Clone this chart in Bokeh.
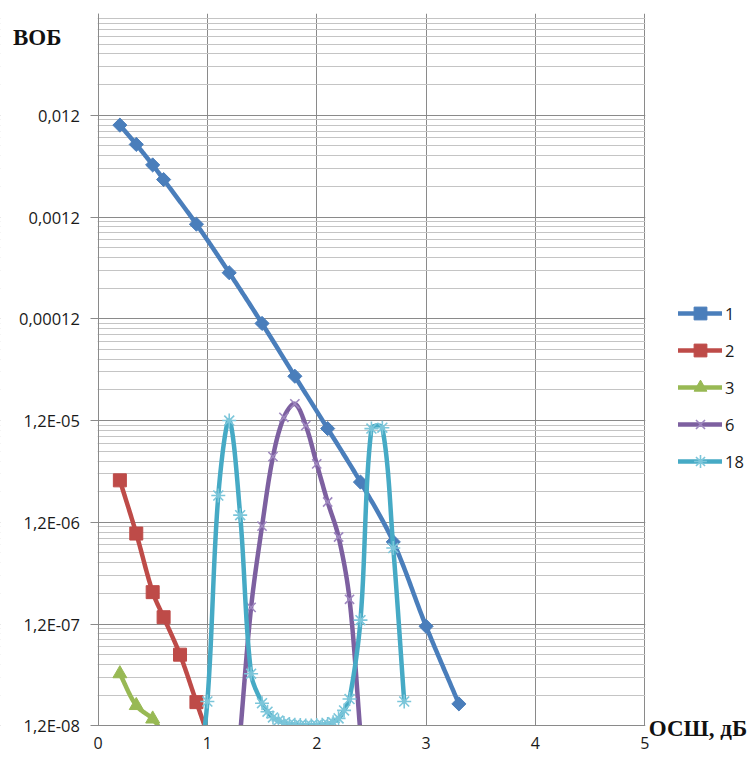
import numpy as np
from bokeh.plotting import figure
from bokeh.models import FixedTicker, Legend, LegendItem, Label, Range1d, BoxAnnotation
from bokeh.embed import file_html
from bokeh.resources import INLINE

# ---------------- data ----------------
x1 = [0.2, 0.35, 0.5, 0.6, 0.9, 1.2, 1.5, 1.8, 2.1, 2.4, 2.7, 3.0, 3.3]
y1 = [9.6e-3, 6.2e-3, 3.9e-3, 2.8e-3, 1.02e-3, 3.4e-4, 1.08e-4, 3.27e-5, 1.0e-5,
      2.98e-6, 7.7e-7, 1.14e-7, 1.97e-8]

x2 = [0.2, 0.35, 0.5, 0.6, 0.75, 0.9, 1.05]
y2 = [3.1e-6, 9.3e-7, 2.47e-7, 1.4e-7, 6.0e-8, 2.05e-8, 7.0e-9]

x3 = [0.2, 0.35, 0.5, 0.6]
y3 = [3.9e-8, 1.9e-8, 1.4e-8, 1.0e-8]

x6 = [1.3, 1.4, 1.5, 1.6, 1.7, 1.8, 1.9, 2.0, 2.1, 2.2, 2.3, 2.4]
y6 = [1.0e-8, 1.75e-7, 1.1e-6, 5.3e-6, 1.29e-5, 1.75e-5, 1.07e-5, 4.5e-6,
      1.9e-6, 8.6e-7, 2.1e-7, 1.0e-8]

x18 = [0.9, 1.0, 1.1, 1.2, 1.3, 1.4, 1.5, 1.55, 1.6, 1.65, 1.7, 1.75, 1.8, 1.85,
       1.9, 1.95, 2.0, 2.05, 2.1, 2.15, 2.2, 2.25, 2.3, 2.4, 2.5, 2.6, 2.7, 2.8]
y18 = [3.0e-9, 2.08e-8, 2.2e-6, 1.2e-5, 1.41e-6, 3.9e-8, 2.0e-8, 1.65e-8,
       1.45e-8, 1.35e-8, 1.28e-8, 1.25e-8, 1.23e-8, 1.22e-8, 1.21e-8, 1.21e-8,
       1.22e-8, 1.23e-8, 1.25e-8, 1.3e-8, 1.42e-8, 1.7e-8, 2.2e-8, 1.31e-7,
       1.0e-5, 1.02e-5, 6.7e-7, 2.08e-8]

series_names = ["1", "2", "3", "6", "18"]

x_ticks = [0, 1, 2, 3, 4, 5]
y_ticks = [1.2e-8, 1.2e-7, 1.2e-6, 1.2e-5, 1.2e-4, 1.2e-3, 1.2e-2]
y_tick_labels = ["1,2E-08", "1,2E-07", "1,2E-06", "1,2E-05", "0,00012", "0,0012", "0,012"]
y_max = 0.12

y_title = "ВОБ"
x_title = "ОСШ, дБ"

# ---------------- helpers ----------------
PX_X = 109.36   # pixels per x unit
PX_Y = 101.76   # pixels per decade


def smooth(xs, ys, n=30):
    """Excel-like smoothed line: cubic Bezier segments, control arms scaled by segment lengths."""
    P = np.column_stack([np.asarray(xs, float) * PX_X, np.log10(np.asarray(ys, float)) * PX_Y])
    m = len(P)
    tan = np.zeros_like(P)
    d = np.linalg.norm(np.diff(P, axis=0), axis=1)
    fwd = np.zeros(m)
    bwd = np.zeros(m)
    for i in range(m):
        if 0 < i < m - 1:
            tan[i] = P[i + 1] - P[i - 1]
            s = d[i - 1] + d[i]
            fwd[i] = d[i] / s / 3.0
            bwd[i] = d[i - 1] / s / 3.0
        elif i == 0:
            tan[i] = P[1] - P[0]
            fwd[i] = 1 / 3.0
        else:
            tan[i] = P[-1] - P[-2]
            bwd[i] = 1 / 3.0
    out = [P[0]]
    t = np.linspace(0, 1, n + 1)[1:]
    for i in range(m - 1):
        p0, p3 = P[i], P[i + 1]
        c1 = p0 + tan[i] * fwd[i]
        c2 = p3 - tan[i + 1] * bwd[i + 1]
        for tt in t:
            out.append(((1 - tt) ** 3) * p0 + 3 * ((1 - tt) ** 2) * tt * c1
                       + 3 * (1 - tt) * tt ** 2 * c2 + tt ** 3 * p3)
    out = np.array(out)
    return list(out[:, 0] / PX_X), list(10 ** (out[:, 1] / PX_Y))


FONT = "Open Sans"
GRID_MAJOR = "#8a8a8a"
GRID_MINOR = "#c4c4c4"
TXT = "#1a1a1a"

# frame covers the canvas below a 13px top band; axes are pinned at x=0 and y=1.2E-08
x0 = -97.5 / PX_X
x1_end = (753 - 97.5) / PX_X
y0 = y_ticks[0] * 10 ** (-(758 - 725.3) / PX_Y)

p = figure(width=753, height=758, y_axis_type="log", output_backend="svg",
           toolbar_location=None, x_range=Range1d(x0, x1_end), y_range=Range1d(y0, y_max),
           min_border_left=0, min_border_right=0, min_border_top=13, min_border_bottom=0)
p.outline_line_color = None
p.background_fill_color = "white"
p.border_fill_color = "white"

# axes
p.xaxis.fixed_location = y_ticks[0]
p.xaxis.bounds = (0, 5)
p.xaxis.ticker = FixedTicker(ticks=x_ticks)
p.xaxis.major_tick_out = 0
p.xaxis.major_tick_in = 0
p.xaxis.minor_tick_line_color = None
p.xaxis.axis_line_color = GRID_MAJOR
p.xaxis.major_label_standoff = 11
p.xaxis.major_label_text_font = FONT
p.xaxis.major_label_text_font_size = "16px"
p.xaxis.major_label_text_color = TXT
p.xaxis.level = "overlay"

minor = [b * k for b in y_ticks for k in range(2, 10)]
p.yaxis.fixed_location = 0
p.yaxis.bounds = (y_ticks[0], y_max)
p.yaxis.ticker = FixedTicker(ticks=y_ticks, minor_ticks=minor)
p.yaxis.major_label_overrides = {t: l for t, l in zip(y_ticks, y_tick_labels)}
p.yaxis.major_tick_out = 8
p.yaxis.major_tick_in = 0
p.yaxis.major_tick_line_color = GRID_MAJOR
p.yaxis.minor_tick_line_color = None
p.yaxis.axis_line_color = GRID_MAJOR
p.yaxis.major_label_standoff = 10
p.yaxis.major_label_text_font = FONT
p.yaxis.major_label_text_font_size = "16.5px"
p.yaxis.major_label_text_color = TXT

p.xgrid.ticker = FixedTicker(ticks=x_ticks)
p.xgrid.grid_line_color = GRID_MAJOR
p.ygrid.grid_line_color = GRID_MAJOR
p.ygrid.minor_grid_line_color = GRID_MINOR

styles = [
    (x1, y1, "#4A7EBB", dict(marker="square", size=10, angle=np.pi / 4, fill_color="#4A7EBB", line_color="#4A7EBB")),
    (x2, y2, "#BE4B48", dict(marker="square", size=13, fill_color="#BE4B48", line_color="#BE4B48")),
    (x3, y3, "#98B954", dict(marker="triangle", size=14, fill_color="#98B954", line_color="#98B954")),
    (x6, y6, "#7D60A0", dict(marker="x", size=13, line_color="#9F88C0", line_width=1.6)),
    (x18, y18, "#46AAC5", dict(marker="asterisk", size=14, line_color="#7CC6DA", line_width=1.6)),
]

items = []
for name, (xs, ys, col, mk) in zip(series_names, styles):
    sx, sy = smooth(xs, ys)
    lr = p.line(sx, sy, line_color=col, line_width=4.5, line_join="round", line_cap="round")
    sr = p.scatter(xs, ys, **mk)
    items.append(LegendItem(label=name, renderers=[lr, sr]))

# white masks outside the plotting area (hide grid lines and line overshoot)
white = dict(fill_color="white", fill_alpha=1.0, line_color=None)
p.add_layout(BoxAnnotation(right=-0.003, level="underlay", **white))
p.add_layout(BoxAnnotation(left=5.004, level="underlay", **white))
p.add_layout(BoxAnnotation(left=-0.003, top=y_ticks[0] * 0.994, level="guide", **white))

legend = Legend(items=items, location=(678, 281), orientation="vertical",
                glyph_width=44, glyph_height=32, label_height=20, spacing=5,
                label_standoff=3, padding=0, margin=0, border_line_color=None,
                background_fill_alpha=0, label_text_font=FONT,
                label_text_font_size="16.5px", label_text_color=TXT)
p.add_layout(legend, "center")

p.add_layout(Label(x=-0.777, y=0.0697, text=y_title, text_font="Liberation Serif",
                   text_font_style="bold", text_font_size="23px", text_color="#111111",
                   text_baseline="alphabetic", text_align="left"))
p.add_layout(Label(x=5.036, y=1.127e-8, text=x_title, text_font="Liberation Serif",
                   text_font_style="bold", text_font_size="23px", text_color="#111111",
                   text_baseline="alphabetic", text_align="left"))

open("out.html", "w").write(file_html(p, INLINE))
